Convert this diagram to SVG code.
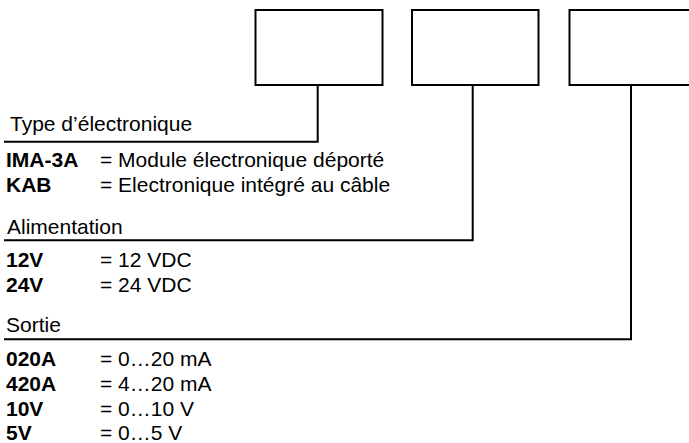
<svg xmlns="http://www.w3.org/2000/svg" width="689" height="443" viewBox="0 0 689 443">
<style>
.box{fill:#fff;stroke:#000;stroke-width:2}
.con{fill:none;stroke:#000;stroke-width:2}
text{font-family:"Liberation Sans",Arial,sans-serif;font-size:21px;fill:#000}
.b{font-weight:bold}
</style>
<rect width="689" height="443" fill="#fff"/>
<g id="box-type"><rect class="box" x="255.5" y="10" width="127" height="75"/></g>
<g id="box-alim"><rect class="box" x="412" y="10" width="126.5" height="75"/></g>
<g id="box-sortie"><rect class="box" x="569.5" y="10" width="130" height="75"/></g>
<g id="connectors">
<polyline class="con" points="317.7,85 317.7,141.7 4,141.7"/>
<polyline class="con" points="472.7,85 472.7,240.3 4,240.3"/>
<polyline class="con" points="631,85 631,339.3 4,339.3"/>
</g>
<g id="type">
<text x="10" y="131">Type d’électronique</text>
<text class="b" x="6" y="166.5">IMA-3A</text><text x="100" y="166.5">= Module électronique déporté</text>
<text class="b" x="6" y="192">KAB</text><text x="100" y="192">= Electronique intégré au câble</text>
</g>
<g id="alimentation">
<text x="7" y="234">Alimentation</text>
<text class="b" x="6" y="267">12V</text><text x="100" y="267">= 12 VDC</text>
<text class="b" x="6" y="292">24V</text><text x="100" y="292">= 24 VDC</text>
</g>
<g id="sortie">
<text x="6" y="332">Sortie</text>
<text class="b" x="6" y="366">020A</text><text x="100" y="366">= 0…20 mA</text>
<text class="b" x="6" y="391">420A</text><text x="100" y="391">= 4…20 mA</text>
<text class="b" x="6" y="415.5">10V</text><text x="100" y="415.5">= 0…10 V</text>
<text class="b" x="6" y="440">5V</text><text x="100" y="440">= 0…5 V</text>
</g>
</svg>
